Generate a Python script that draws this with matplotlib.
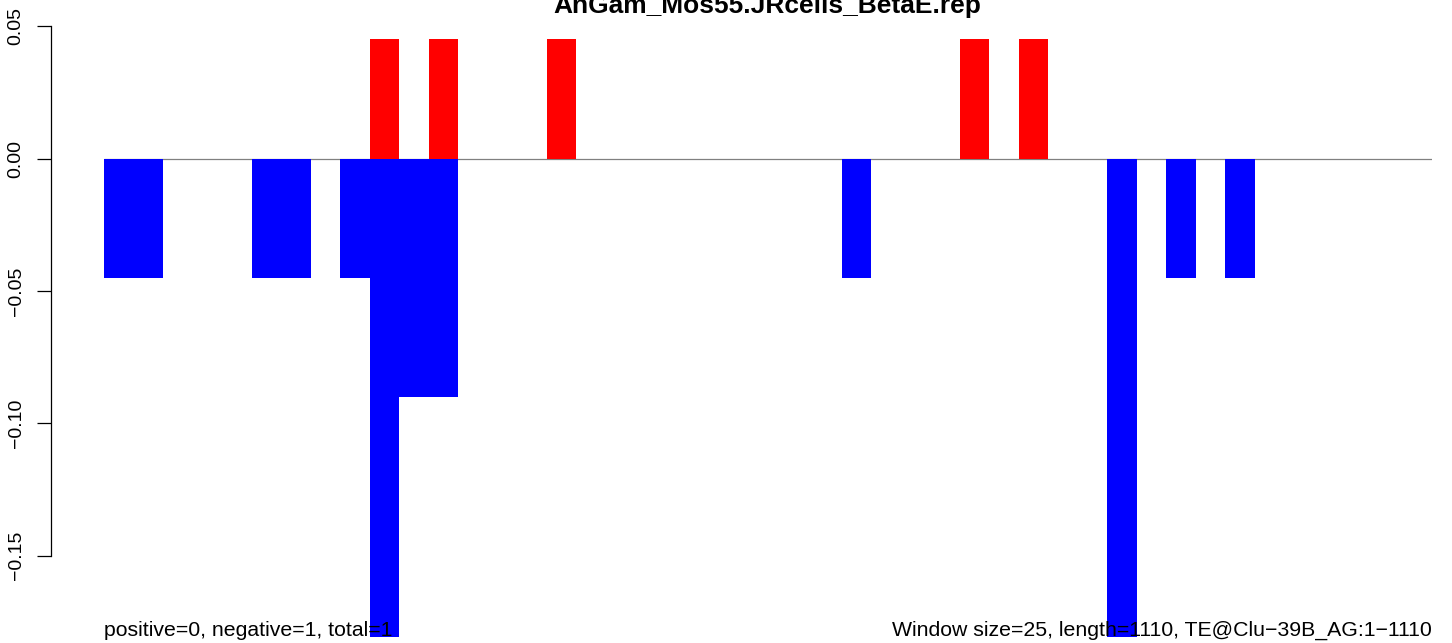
# R-style window barplot, redone in matplotlib
import matplotlib
matplotlib.use("Agg")
import matplotlib.pyplot as plt

plt.rcParams['font.family'] = ['Liberation Sans', 'DejaVu Sans']

# window index -> value (window size 25, 45 windows)
neg_bins = [0, 1, 5, 6, 8, 9, 10, 11, 25, 34, 36, 38]
neg_vals = [-0.045, -0.045, -0.045, -0.045, -0.045, -0.181, -0.09, -0.09,
            -0.045, -0.181, -0.045, -0.045]
pos_bins = [9, 11, 15, 29, 31]
pos_vals = [0.045, 0.045, 0.045, 0.045, 0.045]
n_windows = 45

yticks = [-0.15, -0.10, -0.05, 0.00, 0.05]
ytick_labels = ['%.2f' % v for v in yticks]
ytick_labels = [s.replace('-', '\u2212') for s in ytick_labels]

title = "AnGam_Mos55.JRcells_BetaE.rep"
left_note = "positive=0, negative=1, total=1"
right_note = "Window size=25, length=1110, TE@Clu\u221239B_AG:1\u22121110"

W, H = 1452, 643
fig = plt.figure(figsize=(W / 100, H / 100), dpi=100)
# plot box in pixels: left 51, right 1432, top 22, bottom 637
ax = fig.add_axes([51 / W, (H - 637) / H, (1432 - 51) / W, (637 - 22) / H])

px_per_bin = (1432 - 104) / n_windows
px_per_unit = (555.3 - 25.7) / 0.20
zero_px = 158.5
ax.set_xlim(-(104 - 51) / px_per_bin, n_windows)
ax.set_ylim(-(637 - zero_px) / px_per_unit, (zero_px - 22) / px_per_unit)

ax.hlines(0, 0, n_windows, color='#808080', linewidth=0.9, zorder=1)
ax.bar(pos_bins, pos_vals, width=1, align='edge', color='#FF0000',
       linewidth=0, zorder=2)
ax.bar(neg_bins, neg_vals, width=1, align='edge', color='#0000FF',
       linewidth=0, zorder=2)

for s in ['top', 'right', 'bottom']:
    ax.spines[s].set_visible(False)
ax.spines['left'].set_bounds(-0.15, 0.05)
ax.spines['left'].set_linewidth(0.9)
ax.set_xticks([])
ax.set_yticks(yticks)
ax.set_yticklabels(ytick_labels, rotation=90, va='center', fontsize=14)
ax.tick_params(axis='y', length=10, width=0.9, pad=9)

y_note = -(636 - zero_px) / px_per_unit
ax.text(0, y_note, left_note, ha='left', va='baseline', fontsize=15.3,
        clip_on=False, zorder=3)
ax.text(n_windows, y_note, right_note, ha='right', va='baseline',
        fontsize=15.3, clip_on=False, zorder=3)

fig.text(767.5 / W, 1 - 13 / H, title, ha='center', va='baseline',
         fontsize=19, fontweight='bold')

fig.savefig('out.png', dpi=100)
